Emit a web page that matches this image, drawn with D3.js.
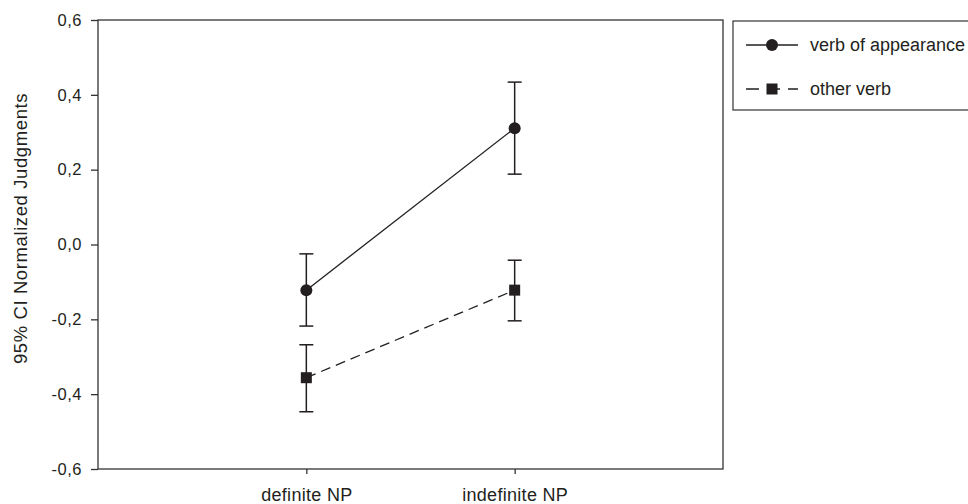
<!DOCTYPE html>
<html>
<head>
<meta charset="utf-8">
<script src="https://cdn.jsdelivr.net/npm/d3@7"></script>
<style>
  body { margin: 0; background: #fff; }
  svg { display: block; font-family: "Liberation Sans", Arial, sans-serif; }
</style>
</head>
<body>
<div id="chart"></div>
<script>
// categories on the x axis
const categories = ["definite NP", "indefinite NP"];
// series names
const seriesNames = ["verb of appearance", "other verb"];
// means and 95% CI bounds, one entry per category
const appearanceMean = [-0.122, 0.311];
const appearanceLow  = [-0.218, 0.188];
const appearanceHigh = [-0.025, 0.434];
const otherMean = [-0.356, -0.122];
const otherLow  = [-0.447, -0.204];
const otherHigh = [-0.268, -0.042];
// y tick labels
const yTicks = [-0.6, -0.4, -0.2, 0.0, 0.2, 0.4, 0.6];

const width = 968, height = 504;
const plotLeft = 98, plotRight = 723, plotTop = 20, plotBottom = 469;
const ink = "#231f20";

const svg = d3.select("#chart").append("svg")
    .attr("width", width)
    .attr("height", height);

// scales: categories sit at 1 and 2 of a 0..3 range
const x = d3.scaleLinear().domain([0, 3]).range([plotLeft, plotRight]);
const y = d3.scaleLinear().domain([-0.6, 0.6]).range([plotBottom, plotTop]);

// frame
svg.append("rect")
    .attr("x", plotLeft).attr("y", plotTop)
    .attr("width", plotRight - plotLeft).attr("height", plotBottom - plotTop)
    .attr("fill", "none").attr("stroke", "#333").attr("stroke-width", 1.3);

// y axis
const yAxis = svg.append("g")
    .attr("transform", `translate(${plotLeft},0)`)
    .call(d3.axisLeft(y).tickValues(yTicks).tickSize(7).tickPadding(9)
        .tickFormat(d => d3.format(".1f")(d).replace(".", ",").replace("−", "-")));
yAxis.select(".domain").remove();
yAxis.selectAll("line").attr("stroke", "#333").attr("stroke-width", 1.3);
yAxis.selectAll("text").attr("font-size", 16.5).attr("fill", ink)
    .attr("letter-spacing", 0.5)
    .attr("font-family", "Liberation Sans, Arial, sans-serif");

// x axis
const xAxis = svg.append("g")
    .attr("transform", `translate(0,${plotBottom})`)
    .call(d3.axisBottom(x).tickValues([1, 2]).tickSize(5).tickPadding(14)
        .tickFormat((d, i) => categories[i]));
xAxis.select(".domain").remove();
xAxis.selectAll("line").attr("stroke", "#333").attr("stroke-width", 1.3);
xAxis.selectAll("text").attr("font-size", 18).attr("fill", ink)
    .attr("letter-spacing", 0.3)
    .attr("font-family", "Liberation Sans, Arial, sans-serif");

// y axis title
svg.append("text")
    .attr("transform", `translate(27,${(plotTop + plotBottom) / 2 - 16}) rotate(-90)`)
    .attr("text-anchor", "middle")
    .attr("font-size", 18.5)
    .attr("letter-spacing", 0.6)
    .attr("fill", ink)
    .text("95% CI Normalized Judgments");

const series = [
    { name: seriesNames[0], mean: appearanceMean, low: appearanceLow, high: appearanceHigh, dash: null, shape: "circle" },
    { name: seriesNames[1], mean: otherMean, low: otherLow, high: otherHigh, dash: "10,6", shape: "square" }
];

const line = d3.line().x((d, i) => x(i + 1)).y(d => y(d));

series.forEach(s => {
    const g = svg.append("g");
    g.append("path")
        .attr("d", line(s.mean))
        .attr("fill", "none")
        .attr("stroke", ink)
        .attr("stroke-width", 1.3)
        .attr("stroke-dasharray", s.dash);

    // error bars
    categories.forEach((c, i) => {
        const cx = x(i + 1);
        g.append("line")
            .attr("x1", cx).attr("x2", cx)
            .attr("y1", y(s.low[i])).attr("y2", y(s.high[i]))
            .attr("stroke", ink).attr("stroke-width", 1.5);
        [s.low[i], s.high[i]].forEach(v => {
            g.append("line")
                .attr("x1", cx - 7).attr("x2", cx + 7)
                .attr("y1", y(v)).attr("y2", y(v))
                .attr("stroke", ink).attr("stroke-width", 1.5);
        });
    });

    // markers
    s.mean.forEach((v, i) => drawMarker(g, s.shape, x(i + 1), y(v)));
});

function drawMarker(g, shape, cx, cy) {
    if (shape === "circle") {
        g.append("circle").attr("cx", cx).attr("cy", cy).attr("r", 6).attr("fill", ink);
    } else {
        g.append("rect").attr("x", cx - 5.5).attr("y", cy - 5.5)
            .attr("width", 11).attr("height", 11).attr("fill", ink);
    }
}

// legend
const legend = svg.append("g");
legend.append("rect")
    .attr("x", 733).attr("y", 21)
    .attr("width", 250).attr("height", 89)
    .attr("fill", "#fff").attr("stroke", "#333").attr("stroke-width", 1.2);

series.forEach((s, i) => {
    const ly = 45 + i * 44;
    legend.append("line")
        .attr("x1", 746).attr("x2", 798)
        .attr("y1", ly).attr("y2", ly)
        .attr("stroke", ink).attr("stroke-width", 1.3)
        .attr("stroke-dasharray", s.dash ? "13,8" : null);
    drawMarker(legend, s.shape, 772, ly);
    legend.append("text")
        .attr("x", 810).attr("y", ly + 6)
        .attr("font-size", 18)
        .attr("fill", ink)
        .text(s.name);
});
</script>
</body>
</html>
